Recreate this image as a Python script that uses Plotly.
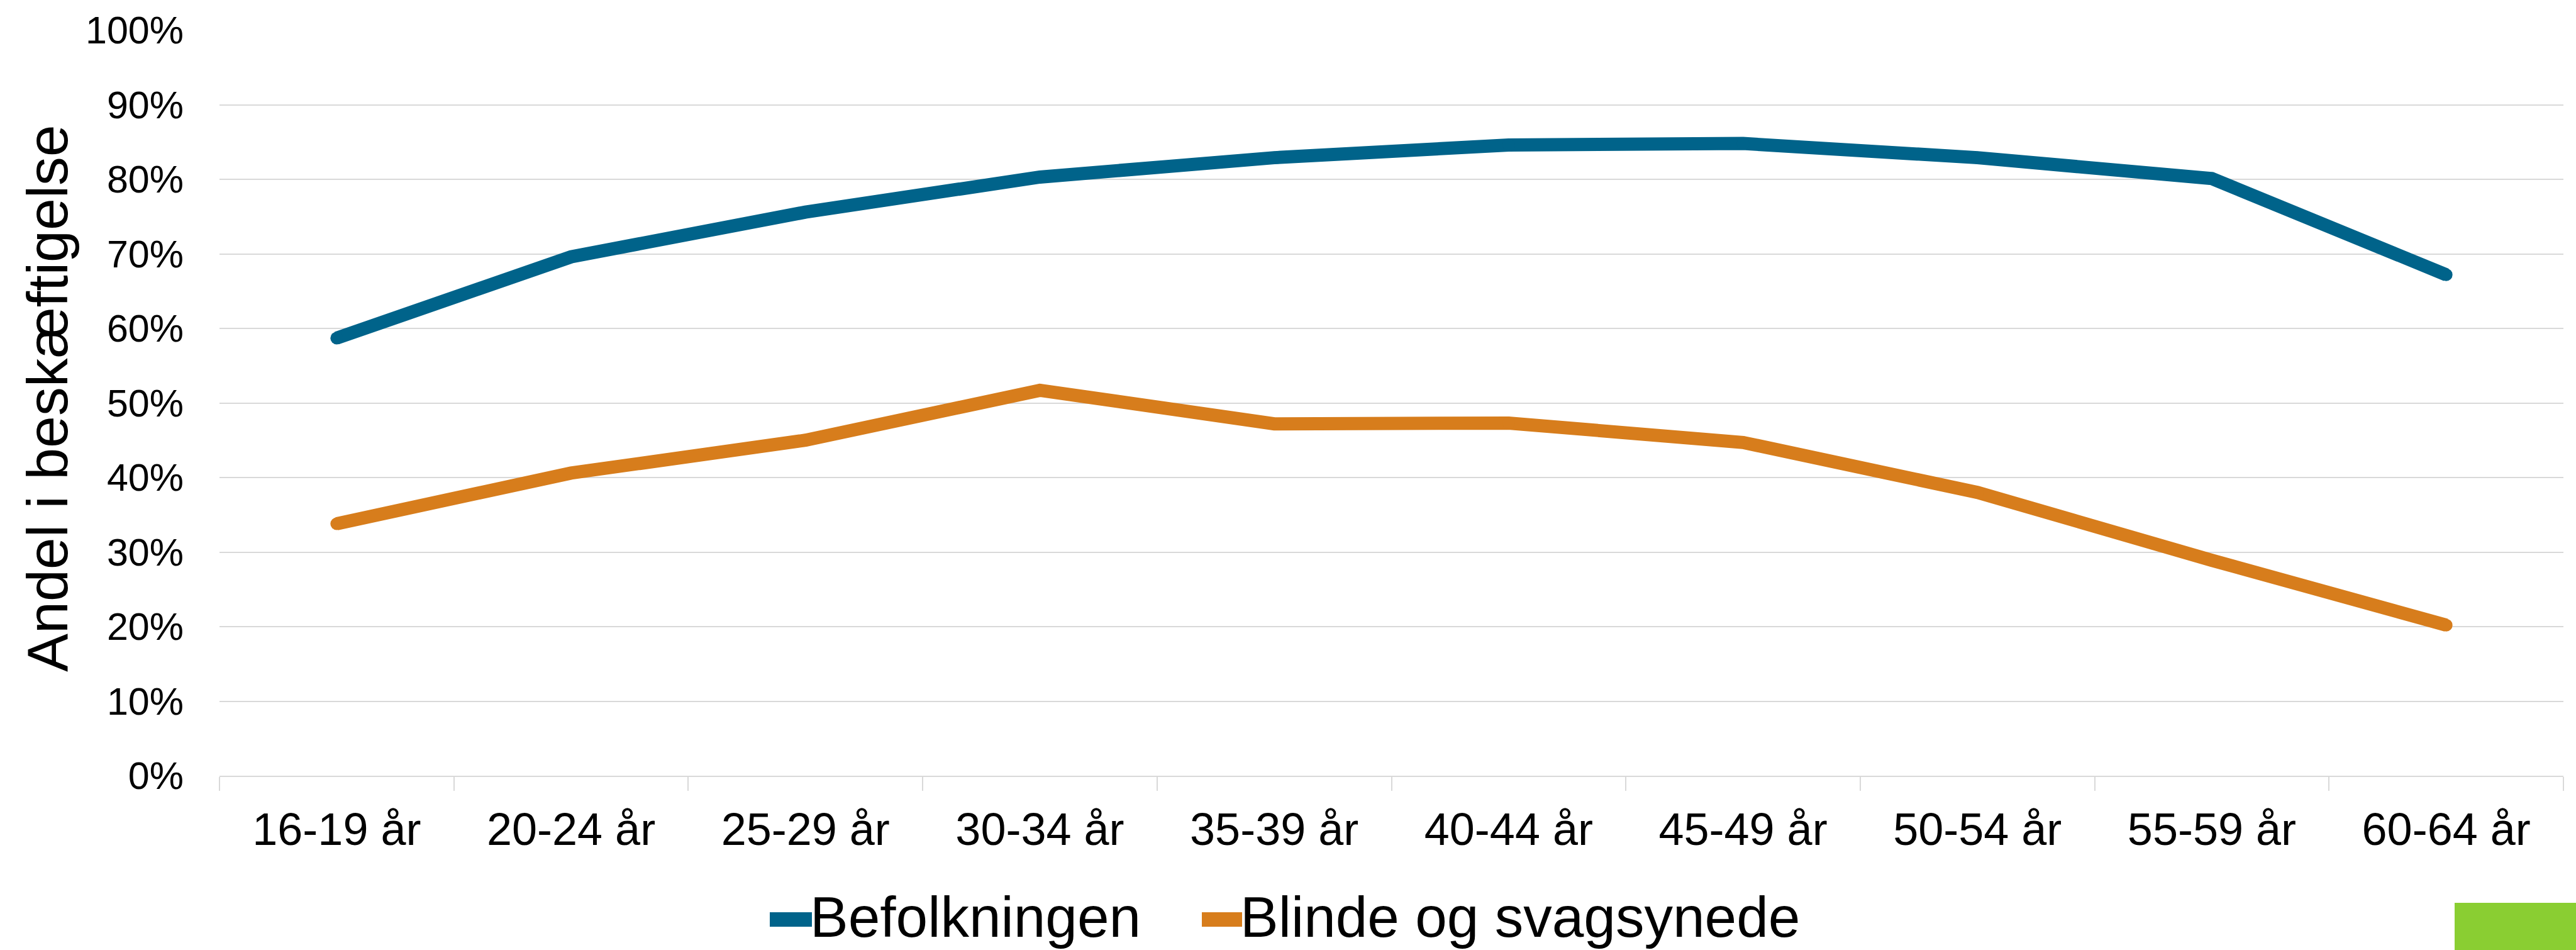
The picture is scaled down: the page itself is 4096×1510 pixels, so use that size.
import plotly.graph_objects as go

categories = ["16-19 år", "20-24 år", "25-29 år", "30-34 år", "35-39 år",
              "40-44 år", "45-49 år", "50-54 år", "55-59 år", "60-64 år"]
befolkningen = [0.587, 0.696, 0.756, 0.803, 0.829, 0.846, 0.848, 0.829, 0.801, 0.672]
blinde = [0.338, 0.406, 0.450, 0.517, 0.472, 0.473, 0.447, 0.380, 0.289, 0.202]
series_names = ["Befolkningen", "Blinde og svagsynede"]
colors = ["#00638A", "#D77D1C"]
y_ticks = [i / 10 for i in range(11)]

W, H = 4096, 1510
L, R, T, B = 349, 20, 48, 277
PW, PH = W - L - R, H - T - B

def px(x):
    return (x - L) / PW

def py(y):
    return (H - B - y) / PH

FONT = "Liberation Sans, Arial, sans-serif"

fig = go.Figure()
for name, vals, col in zip(series_names, [befolkningen, blinde], colors):
    # markers the size of the line width emulate round caps / joins
    fig.add_trace(go.Scatter(x=categories, y=vals, name=name, mode="lines+markers",
                             line=dict(color=col, width=21),
                             marker=dict(color=col, size=20, line=dict(width=0)),
                             showlegend=False))

fig.update_layout(
    width=W, height=H,
    margin=dict(l=L, r=R, t=T, b=B, pad=0),
    paper_bgcolor="white", plot_bgcolor="white",
    font=dict(family=FONT, color="black"),
    xaxis=dict(type="category", range=[-0.5, 9.5], showgrid=False,
               showline=True, linecolor="#D9D9D9", linewidth=2,
               ticks="outside", tickson="boundaries", ticklen=22,
               tickcolor="#D9D9D9", tickwidth=2,
               tickfont=dict(size=72, family=FONT, color="black"),
               ticklabelstandoff=22),
    yaxis=dict(range=[0, 1], tickvals=y_ticks, tickformat=".0%",
               showgrid=True, gridcolor="#D9D9D9", gridwidth=2,
               zeroline=False, showline=False, ticks="",
               tickfont=dict(size=61, family=FONT, color="black"),
               ticklabelstandoff=56),
)

# y axis title
fig.add_annotation(text="Andel i beskæftigelse", textangle=-90,
                   xref="paper", yref="paper", x=px(75), y=py(633),
                   xanchor="center", yanchor="middle", showarrow=False,
                   font=dict(size=91.5, family=FONT, color="black"))

# legend (manual)
legend_items = [(1224, 1291), (1911, 1975)]
for (x0, x1), name, col in zip(legend_items, series_names, colors):
    fig.add_shape(type="rect", xref="paper", yref="paper",
                  x0=px(x0), x1=px(x1), y0=py(1450), y1=py(1473),
                  fillcolor=col, line=dict(width=0))
    fig.add_annotation(text=name, xref="paper", yref="paper",
                       x=px(x1 - 5), y=py(1457), xanchor="left", yanchor="middle",
                       showarrow=False,
                       font=dict(size=91, family=FONT, color="black"))

# green block bottom right
fig.add_shape(type="rect", xref="paper", yref="paper",
              x0=px(3903), x1=px(4100), y0=py(1435), y1=py(1515),
              fillcolor="#8ACE32", line=dict(width=0))

fig.write_html("out.html", config={"displayModeBar": False},
               post_script="document.body.style.margin='0';document.body.style.overflow='hidden';")
